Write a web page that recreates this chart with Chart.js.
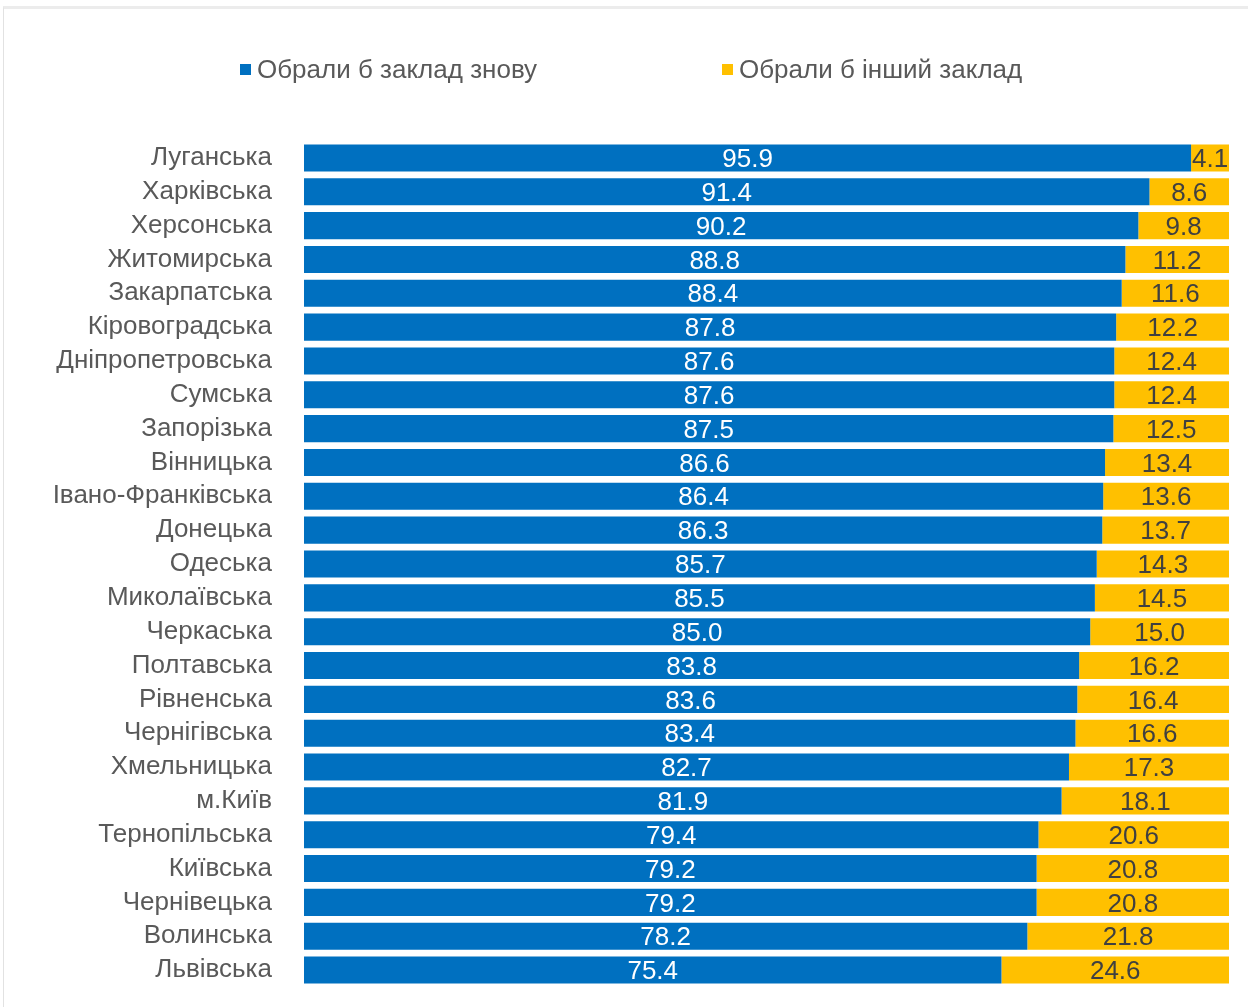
<!DOCTYPE html>
<html>
<head>
<meta charset="utf-8">
<script src="https://cdn.jsdelivr.net/npm/chart.js@4/dist/chart.umd.min.js"></script>
<style>
  html, body { margin: 0; padding: 0; background: #fff; }
  #wrap { position: relative; width: 1248px; height: 1007px; }
  #frame { position: absolute; left: 3px; top: 6px; right: 0; bottom: 0;
           border-top: 3px solid #ececec; border-left: 1px solid #e2e2e2; pointer-events: none; }
  canvas { position: absolute; left: 0; top: 0; }
</style>
</head>
<body>
<div id="wrap">
  <canvas id="myChart" width="1248" height="1007"></canvas>
  <div id="frame"></div>
</div>
<script>
// області
var regions = ['Луганська', 'Харківська', 'Херсонська', 'Житомирська', 'Закарпатська', 'Кіровоградська',
    'Дніпропетровська', 'Сумська', 'Запорізька', 'Вінницька', 'Івано-Франківська', 'Донецька', 'Одеська',
    'Миколаївська', 'Черкаська', 'Полтавська', 'Рівненська', 'Чернігівська', 'Хмельницька', 'м.Київ',
    'Тернопільська', 'Київська', 'Чернівецька', 'Волинська', 'Львівська'];
var sameSchool = [95.9, 91.4, 90.2, 88.8, 88.4, 87.8, 87.6, 87.6, 87.5, 86.6, 86.4, 86.3, 85.7,
    85.5, 85.0, 83.8, 83.6, 83.4, 82.7, 81.9, 79.4, 79.2, 79.2, 78.2, 75.4];
var otherSchool = [4.1, 8.6, 9.8, 11.2, 11.6, 12.2, 12.4, 12.4, 12.5, 13.4, 13.6, 13.7, 14.3,
    14.5, 15.0, 16.2, 16.4, 16.6, 17.3, 18.1, 20.6, 20.8, 20.8, 21.8, 24.6];

var FONT = '"Liberation Sans", Arial, sans-serif';
var FS = 26;

// підписи значень у центрі смуг
var valueLabels = {
    id: 'valueLabels',
    afterDatasetsDraw: function (chart) {
        var ctx = chart.ctx;
        ctx.save();
        ctx.font = FS + 'px ' + FONT;
        ctx.textAlign = 'center';
        ctx.textBaseline = 'middle';
        chart.data.datasets.forEach(function (ds, i) {
            var meta = chart.getDatasetMeta(i);
            ctx.fillStyle = i === 0 ? '#ffffff' : '#404040';
            meta.data.forEach(function (bar, j) {
                var p = bar.getProps(['x', 'y', 'base'], true);
                ctx.fillText(ds.data[j].toFixed(1), (p.x + p.base) / 2, p.y + 2);
            });
        });
        ctx.restore();
    }
};

// легенда
var topLegend = {
    id: 'topLegend',
    afterDraw: function (chart) {
        var ctx = chart.ctx;
        var starts = [240, 722];
        ctx.save();
        ctx.font = FS + 'px ' + FONT;
        ctx.textBaseline = 'middle';
        ctx.textAlign = 'left';
        chart.data.datasets.forEach(function (ds, i) {
            var x = starts[i];
            ctx.fillStyle = ds.backgroundColor;
            ctx.fillRect(x, 64, 11, 11);
            ctx.fillStyle = '#595959';
            ctx.fillText(ds.label, x + 17, 71);
        });
        ctx.restore();
    }
};

var ctx = document.getElementById('myChart').getContext('2d');
var myChart = new Chart(ctx, {
    type: 'bar',
    data: {
        labels: regions,
        datasets: [{
            label: 'Обрали б заклад знову',
            data: sameSchool,
            backgroundColor: '#0070C0',
            borderWidth: 0,
            barPercentage: 0.8,
            categoryPercentage: 1.0
        }, {
            label: 'Обрали б інший заклад',
            data: otherSchool,
            backgroundColor: '#FFC000',
            borderWidth: 0,
            barPercentage: 0.8,
            categoryPercentage: 1.0
        }]
    },
    options: {
        indexAxis: 'y',
        responsive: false,
        maintainAspectRatio: false,
        animation: false,
        layout: { padding: { top: 141, right: 19, bottom: 20, left: 0 } },
        plugins: {
            legend: { display: false },
            tooltip: { enabled: false }
        },
        scales: {
            x: {
                stacked: true,
                min: 0,
                max: 100,
                display: false
            },
            y: {
                stacked: true,
                grid: { display: false, drawTicks: false },
                border: { display: false },
                ticks: {
                    color: '#595959',
                    padding: 32,
                    autoSkip: false,
                    font: { family: FONT, size: FS }
                },
                afterFit: function (scale) {
                    scale.width = 304;
                    scale.paddingTop = 0;
                    scale.paddingBottom = 0;
                }
            }
        }
    },
    plugins: [valueLabels, topLegend]
});
</script>
</body>
</html>
